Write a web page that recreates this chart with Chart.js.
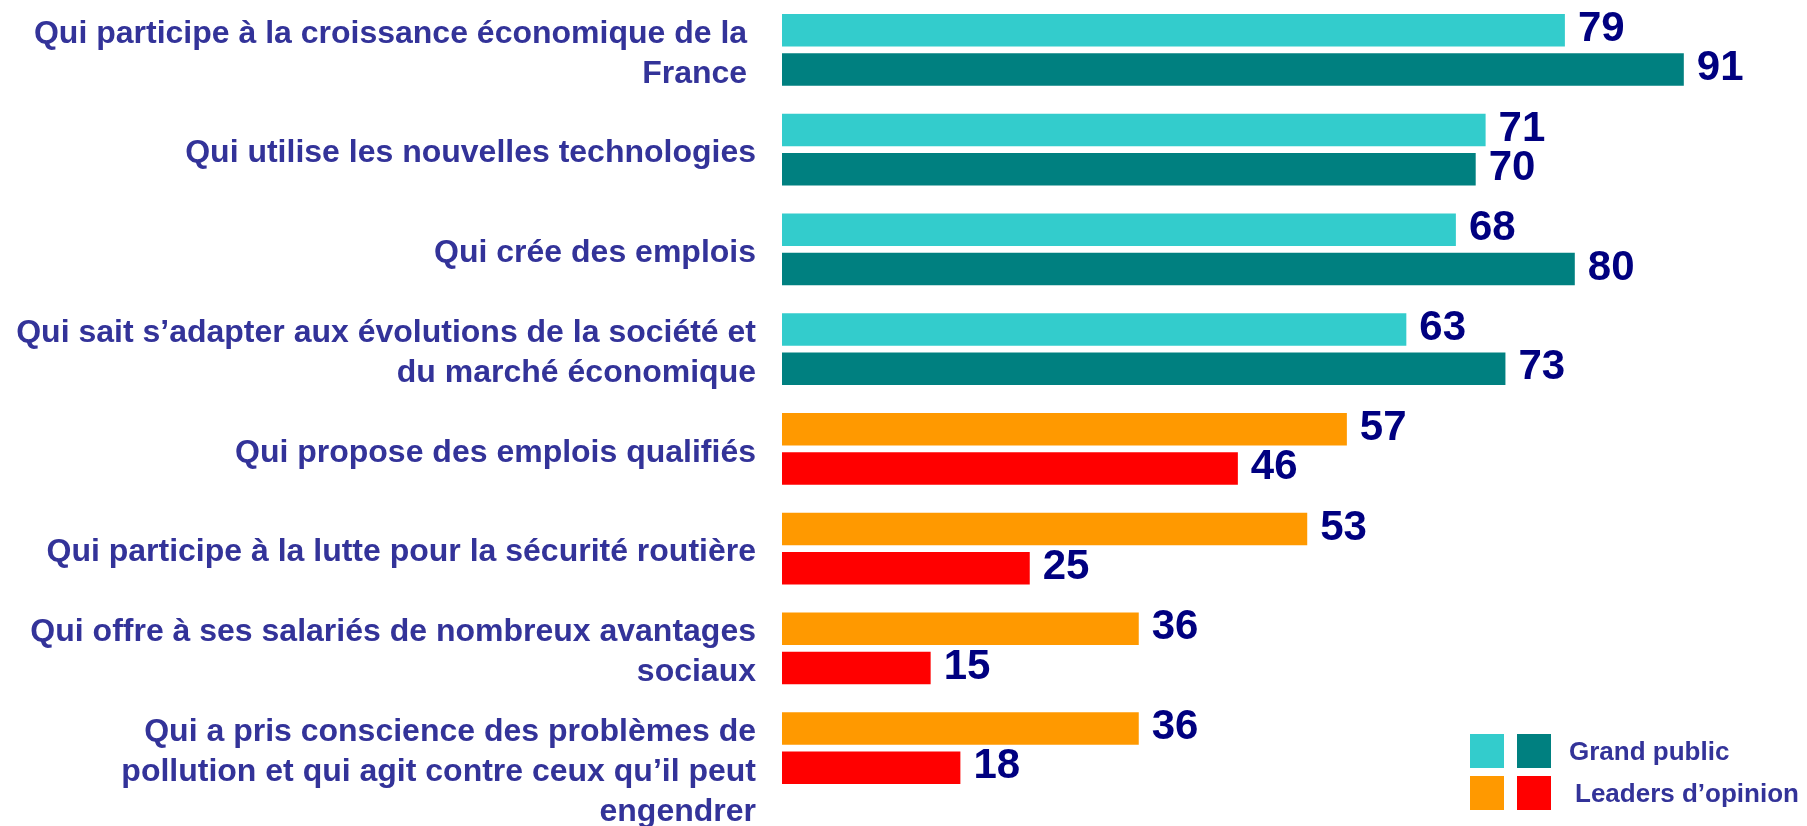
<!DOCTYPE html>
<html lang="fr">
<head>
<meta charset="utf-8">
<title>Image de l'entreprise</title>
<script src="https://cdn.jsdelivr.net/npm/chart.js@4.4.1/dist/chart.umd.min.js"></script>
<style>
  body { margin: 0; background: #fff; }
  #wrap { position: relative; width: 1807px; height: 826px; }
  #legend {
    position: absolute; left: 1470px; top: 734px;
    font: bold 26px "Liberation Sans", Arial, sans-serif; color: #333399;
  }
  .row { display: flex; align-items: center; height: 34px; margin-bottom: 8px; }
  .sq { width: 34px; height: 34px; margin-right: 13px; }
  .row span { margin-left: 5px; white-space: nowrap; }
</style>
</head>
<body>
<div id="wrap">
  <canvas id="chart" width="1807" height="826"></canvas>
  <div id="legend"></div>
</div>
<script>
// catégories (une ligne par élément de tableau)
const categories = [
  ["Qui participe à la croissance économique de la ", "France "],
  "Qui utilise les nouvelles technologies",
  "Qui crée des emplois",
  ["Qui sait s’adapter aux évolutions de la société et", "du marché économique"],
  "Qui propose des emplois qualifiés",
  "Qui participe à la lutte pour la sécurité routière",
  ["Qui offre à ses salariés de nombreux avantages", "sociaux"],
  ["", "Qui a pris conscience des problèmes de", "pollution et qui agit contre ceux qu’il peut", "engendrer"]
];
const topValues = [79, 71, 68, 63, 57, 53, 36, 36];
const bottomValues = [91, 70, 80, 73, 46, 25, 15, 18];
const groups = ["Grand public", "Grand public", "Grand public", "Grand public",
  "Leaders d’opinion", "Leaders d’opinion", "Leaders d’opinion", "Leaders d’opinion"];
const legendNames = ["Grand public", "Leaders d’opinion"];

const palette = {
  "Grand public": ["#33cccc", "#008080"],
  "Leaders d’opinion": ["#ff9900", "#ff0000"]
};

const FONT = '"Liberation Sans", Arial, sans-serif';

// les valeurs à droite des barres
const valueLabels = {
  id: "valueLabels",
  afterDatasetsDraw(chart) {
    const ctx = chart.ctx;
    ctx.save();
    ctx.font = "bold 42px " + FONT;
    ctx.fillStyle = "#000080";
    ctx.textBaseline = "middle";
    chart.data.datasets.forEach((ds, i) => {
      chart.getDatasetMeta(i).data.forEach((bar, j) => {
        ctx.fillText(ds.data[j], bar.x + 13, bar.y - 1);
      });
    });
    ctx.restore();
  }
};

new Chart(document.getElementById("chart"), {
  type: "bar",
  data: {
    labels: categories,
    datasets: [
      {
        label: "1",
        data: topValues,
        backgroundColor: ctx => palette[groups[ctx.dataIndex]][0]
      },
      {
        label: "2",
        data: bottomValues,
        backgroundColor: ctx => palette[groups[ctx.dataIndex]][1]
      }
    ]
  },
  options: {
    indexAxis: "y",
    responsive: false,
    animation: false,
    categoryPercentage: 0.786,
    barPercentage: 0.832,
    layout: { padding: { left: 0, right: 34, top: 0, bottom: 28 } },
    plugins: { legend: { display: false }, tooltip: { enabled: false } },
    scales: {
      x: { display: false, min: 0, max: 100 },
      y: {
        grid: { display: false, drawTicks: false },
        border: { display: false },
        ticks: {
          autoSkip: false,
          padding: 26,
          labelOffset: 4,
          color: "#333399",
          font: { family: FONT, size: 32, weight: "bold", lineHeight: 1.25 }
        },
        afterFit(scale) {
          scale.width = 782;
          scale.paddingTop = 0;
          scale.paddingBottom = 0;
        }
      }
    }
  },
  plugins: [valueLabels]
});

// légende
const legend = document.getElementById("legend");
legendNames.forEach(name => {
  const row = document.createElement("div");
  row.className = "row";
  palette[name].forEach(c => {
    const sq = document.createElement("div");
    sq.className = "sq";
    sq.style.background = c;
    row.appendChild(sq);
  });
  const txt = document.createElement("span");
  txt.textContent = name;
  row.appendChild(txt);
  legend.appendChild(row);
});
legend.lastChild.querySelector("span").style.marginLeft = "11px";
</script>
</body>
</html>
